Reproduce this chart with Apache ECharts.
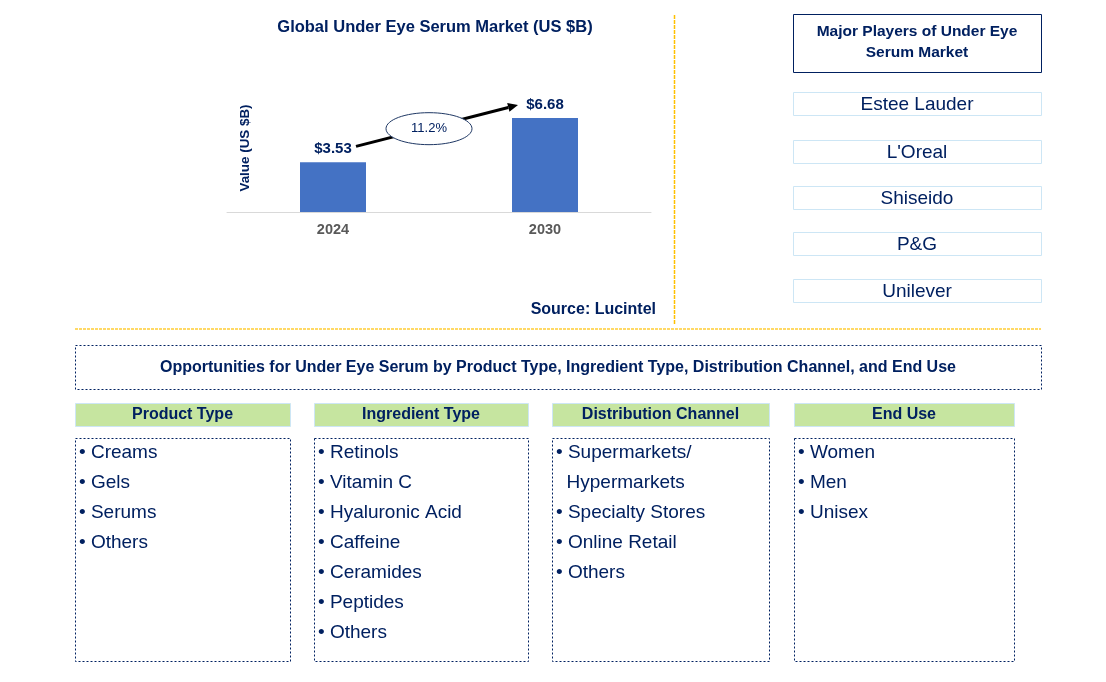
<!DOCTYPE html>
<html>
<head>
<meta charset="utf-8">
<script src="https://cdn.jsdelivr.net/npm/echarts@6/dist/echarts.min.js"></script>
<style>
html,body{margin:0;padding:0;background:#fff;}
#c{width:1106px;height:682px;}
</style>
</head>
<body>
<div id="c"></div>
<script>
// ---- data ----
const years = ['2024', '2030'];
const values = [3.53, 6.68];
const valueLabels = ['$3.53', '$6.68'];
const cagr = '11.2%';
const chartTitle = 'Global Under Eye Serum Market (US $B)';
const yName = 'Value (US $B)';
const source = 'Source: Lucintel';
const playersTitle = ['Major Players of Under Eye', 'Serum Market'];
const players = ['Estee Lauder', "L'Oreal", 'Shiseido', 'P&G', 'Unilever'];
const oppTitle = 'Opportunities for Under Eye Serum by Product Type, Ingredient Type, Distribution Channel, and End Use';
const segHeads = ['Product Type', 'Ingredient Type', 'Distribution Channel', 'End Use'];
const productType = ['Creams', 'Gels', 'Serums', 'Others'];
const ingredientType = ['Retinols', 'Vitamin C', 'Hyaluronic Acid', 'Caffeine', 'Ceramides', 'Peptides', 'Others'];
const distributionChannel = ['Supermarkets/', ' Hypermarkets', 'Specialty Stores', 'Online Retail', 'Others'];
const endUse = ['Women', 'Men', 'Unisex'];

// ---- styling ----
const NAVY = '#002060';
const FONT = 'Arial, "Liberation Sans", sans-serif';
const chart = echarts.init(document.getElementById('c'), null, {renderer: 'canvas'});

const graphics = [];
function txt(x, y, text, size, weight, align, color, rot) {
  graphics.push({type: 'text', x: x, y: y, rotation: rot || 0, silent: true,
    style: {text: text, fill: color || NAVY, font: (weight || 'normal') + ' ' + size + 'px ' + FONT,
      align: align || 'left', verticalAlign: 'middle'}});
}
function box(x, y, w, h, stroke, fill, dash) {
  graphics.push({type: 'rect', shape: {x: x + 0.5, y: y + 0.5, width: w, height: h}, silent: true,
    style: {fill: fill || 'none', stroke: stroke, lineWidth: 1, lineDash: dash || null}});
}

// chart titles
txt(435, 27, chartTitle, 16.5, 'bold', 'center');
txt(656, 310, source, 16, 'bold', 'right');
txt(245, 148, yName, 13.4, 'bold', 'center', NAVY, Math.PI / 2);

// separators
graphics.push({type: 'line', shape: {x1: 674.5, y1: 15, x2: 674.5, y2: 325}, silent: true,
  style: {stroke: '#FFC000', lineWidth: 1.5, lineDash: [4, 1]}});
graphics.push({type: 'line', shape: {x1: 75, y1: 329, x2: 1041, y2: 329}, silent: true,
  style: {stroke: '#FFD966', lineWidth: 2, lineDash: [3, 1]}});

// players
box(793, 14, 248, 58, NAVY);
txt(917, 32, playersTitle[0], 15.5, 'bold', 'center');
txt(917, 53, playersTitle[1], 15.5, 'bold', 'center');
const playerTops = [92, 140, 186, 232, 279];
players.forEach((p, i) => {
  box(793, playerTops[i], 248, 23, '#CDE6F5');
  txt(917, playerTops[i] + 13, p, 19, 'normal', 'center');
});

// opportunities
box(75, 345, 966, 44, NAVY, null, [2, 2]);
txt(558, 368, oppTitle, 16, 'bold', 'center');

const colX = [75, 314, 552, 794];
const colW = [215, 214, 217, 220];
const lists = [productType, ingredientType, distributionChannel, endUse];
segHeads.forEach((h, i) => {
  box(colX[i], 403, colW[i], 23, '#CDE6F5', '#C6E5A0');
  txt(colX[i] + colW[i] / 2, 415, h, 16, 'bold', 'center');
  box(colX[i], 438, colW[i], 223, NAVY, null, [2, 2]);
  lists[i].forEach((item, j) => {
    const cont = item.startsWith(' ');
    txt(colX[i] + 4, 453 + j * 30, (cont ? '  ' : '\u2022 ') + item.trim(), 19, 'normal', 'left');
  });
});

chart.setOption({
  animation: false,
  backgroundColor: '#fff',
  grid: {left: 227, right: 1106 - 651, top: 212 - 8 * 14.07, bottom: 682 - 212, containLabel: false},
  xAxis: {type: 'category', data: years,
    axisLine: {lineStyle: {color: '#D9D9D9', width: 1}}, axisTick: {show: false},
    axisLabel: {color: '#595959', fontWeight: 'bold', fontSize: 14.5, fontFamily: FONT, margin: 10}},
  yAxis: {type: 'value', min: 0, max: 8, show: true, splitLine: {show: false},
    axisLine: {show: false}, axisTick: {show: false}, axisLabel: {show: false}},
  series: [{type: 'bar', data: values, barWidth: 66, itemStyle: {color: '#4472C4'},
    label: {show: true, position: 'top', distance: 6, formatter: p => valueLabels[p.dataIndex],
      color: NAVY, fontWeight: 'bold', fontSize: 15, fontFamily: FONT}}],
  graphic: graphics
});

// CAGR arrow and ellipse, positioned from the bar tops
const p1 = chart.convertToPixel({gridIndex: 0}, [0, values[0]]);
const p2 = chart.convertToPixel({gridIndex: 0}, [1, values[1]]);
const sx = p1[0] + 23, sy = p1[1] - 16, ex = p2[0] - 27, ey = p2[1] - 13;
const ang = Math.atan2(ey - sy, ex - sx);
const hl = 10, hw = 4.5;
const bx = ex - hl * Math.cos(ang), by = ey - hl * Math.sin(ang);
const extra = [
  {type: 'line', shape: {x1: sx, y1: sy, x2: bx, y2: by}, silent: true, style: {stroke: '#000', lineWidth: 3}},
  {type: 'polygon', shape: {points: [[ex, ey], [bx - hw * Math.sin(ang), by + hw * Math.cos(ang)], [bx + hw * Math.sin(ang), by - hw * Math.cos(ang)]]},
    silent: true, style: {fill: '#000'}},
  {type: 'ellipse', shape: {cx: (sx + ex) / 2 - 8, cy: (sy + ey) / 2 + 3, rx: 43, ry: 16}, silent: true,
    style: {fill: '#fff', stroke: '#1F3864', lineWidth: 1}},
  {type: 'text', x: (sx + ex) / 2 - 8, y: (sy + ey) / 2 + 3, silent: true,
    style: {text: cagr, fill: NAVY, font: 'normal 13px ' + FONT, align: 'center', verticalAlign: 'middle'}}
];
chart.setOption({graphic: graphics.concat(extra)});
</script>
</body>
</html>
